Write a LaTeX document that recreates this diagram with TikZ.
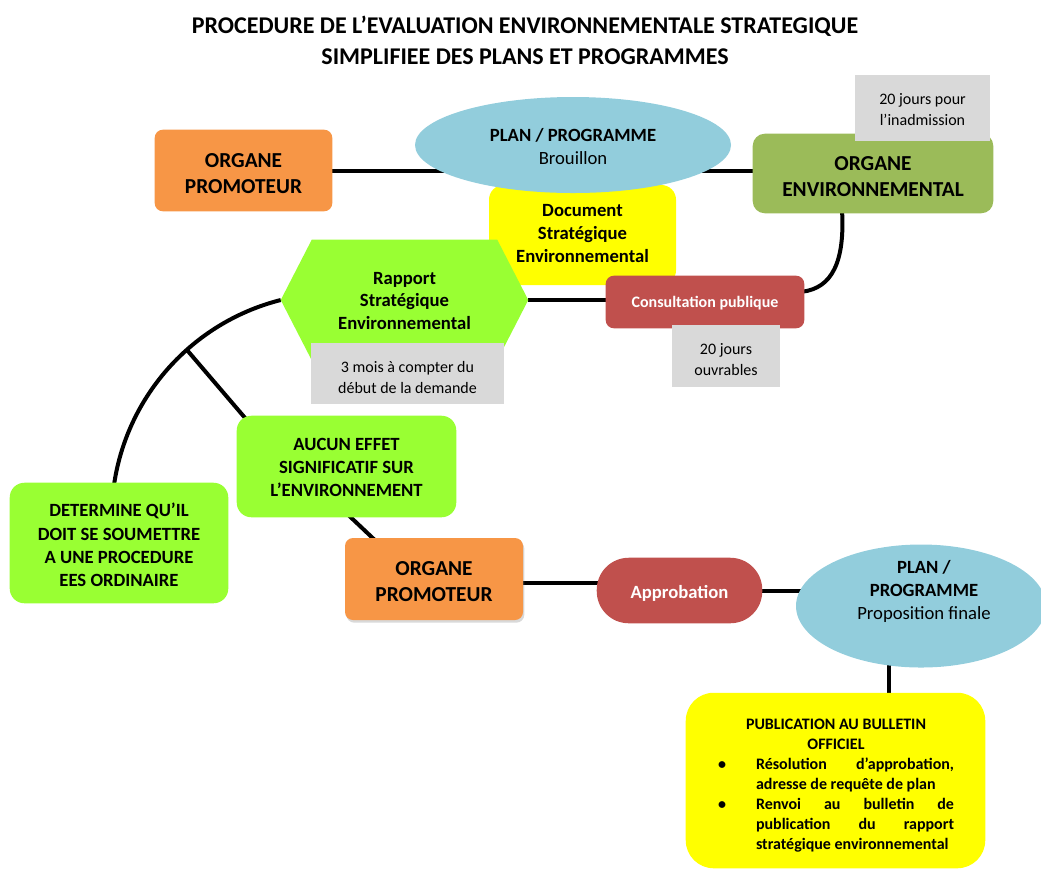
\documentclass[tikz,border=0pt]{standalone}
\usepackage{fontspec}
\setmainfont{Carlito}
\usetikzlibrary{calc,shadows,shapes.geometric}
\definecolor{orgorange}{HTML}{F79646}
\definecolor{planblue}{HTML}{92CDDC}
\definecolor{docyellow}{HTML}{FFFF00}
\definecolor{envgreen}{HTML}{9BBB59}
\definecolor{consred}{HTML}{C0504D}
\definecolor{limegreen}{HTML}{99FF33}
\definecolor{notegrey}{HTML}{D9D9D9}
\newcommand\pxu[1]{#1*0.75pt}
\begin{document}
\begin{tikzpicture}[x=0.75pt,y=-0.75pt,
  conn/.style={line width=3pt, black},
  frame/.style={rectangle, inner sep=0pt},
  label/.style={inner sep=0pt, align=center, text=black},
  organetext/.style={label, font=\bfseries\fontsize{16}{19.5}\selectfont},
  bluetext/.style={label, font=\fontsize{14}{17.25}\selectfont},
  greentext/.style={label, font=\bfseries\fontsize{14}{17.4}\selectfont},
  notetext/.style={label, font=\fontsize{12}{15.75}\selectfont},
  redtext/.style={label, text=white, font=\bfseries\fontsize{12}{15}\selectfont},
]
\useasboundingbox (0,0) rectangle (1041,869);

% title
\node[label, font=\bfseries\fontsize{18}{23.25}\selectfont] (title) at (525,40.5)
  {PROCEDURE DE L’EVALUATION ENVIRONNEMENTALE STRATEGIQUE\\SIMPLIFIEE DES PLANS ET PROGRAMMES};

% node frames used for the connectors
\path node[frame, minimum width=\pxu{177}, minimum height=\pxu{81}] (promA) at (243.5,170.5) {};
\path node[frame, minimum width=\pxu{240}, minimum height=\pxu{79}] (envA) at (873,173.5) {};
\path node[frame, minimum width=\pxu{198}, minimum height=\pxu{52}] (consult) at (705,302) {};
\path node[frame, minimum width=\pxu{247}, minimum height=\pxu{120}] (hex) at (404.5,300) {};
\path node[frame, minimum width=\pxu{219}, minimum height=\pxu{101}] (aucun) at (346.5,466.5) {};
\path node[frame, minimum width=\pxu{218}, minimum height=\pxu{120}] (determine) at (119,543) {};
\path node[frame, minimum width=\pxu{178}, minimum height=\pxu{82}] (promB) at (434,579) {};
\path node[frame, minimum width=\pxu{165}, minimum height=\pxu{65}] (approb) at (679.5,590.5) {};
\path node[ellipse, inner sep=0pt, minimum width=\pxu{250}, minimum height=\pxu{123}] (ellB) at (921,606) {};
\path node[frame, minimum width=\pxu{299}, minimum height=\pxu{175}] (pub) at (835.5,780.5) {};
\coordinate (branch) at (187,350);
\coordinate (envtap) at (842,210);

% connectors
\draw[conn] (promA.east) -- (promA.east -| envA.west);
\draw[conn] (envtap) .. controls (845,262) and (832,288) .. ($(consult.north east)+(-2,16)$);
\draw[conn] (hex.east) -- (hex.east -| consult.west);
\draw[conn] (hex.west) arc[start angle=255.8, end angle=185, radius=224];
\draw[conn] (branch) -- ($(aucun.north west)+(15,10)$);
\draw[conn] ($(aucun.south)+(0,-4)$) -- ($(promB.north west)+(34,6)$);
\draw[conn] ($(promB.east)+(-4,4)$) -- ($(approb.west)+(4,-7.5)$);
\draw[conn] (approb.east) -- (approb.east -| ellB.center);
\draw[conn] ($(pub.north)+(53.5,5)$) -- ($(pub.north)+(53.5,-60)$);

% top promoter
\fill[orgorange, rounded corners=6pt] (promA.north west) rectangle (promA.south east);
\node[organetext] (promAt) at ($(promA.center)+(0,3)$) {ORGANE\\PROMOTEUR};

% strategic document
\node[frame, fill=docyellow, rounded corners=11pt, minimum width=\pxu{187}, minimum height=\pxu{100}] (docbox) at (582.5,235) {};
\node[label, font=\bfseries\fontsize{14}{17.25}\selectfont] (doct) at (582.5,233.5)
  {Document\\Stratégique\\Environnemental};

% draft plan
\node[ellipse, inner sep=0pt, fill=planblue, minimum width=\pxu{316}, minimum height=\pxu{96}] (ellA) at (573,145) {};
\node[bluetext] (ellAt) at (573,147) {\textbf{PLAN / PROGRAMME}\\Brouillon};

% strategic report (hexagon)
\fill[limegreen] (hex.west) -- ($(hex.north west)+(31,0)$) -- ($(hex.north east)+(-31,0)$)
  -- (hex.east) -- ($(hex.south east)+(-31,0)$) -- ($(hex.south west)+(31,0)$) -- cycle;
\node[label, font=\bfseries\fontsize{14}{17}\selectfont] (hext) at (404.5,301)
  {Rapport\\Stratégique\\Environnemental};

% public consultation
\fill[consred, rounded corners=6pt] (consult.north west) rectangle (consult.south east);
\node[redtext] (consultt) at ($(consult.center)+(0,1.5)$) {Consultation publique};

% environmental body
\fill[envgreen, rounded corners=9pt] (envA.north west) rectangle (envA.south east);
\node[organetext] (envAt) at ($(envA.center)+(0,3)$) {ORGANE\\ENVIRONNEMENTAL};

% grey notes
\node[frame, fill=notegrey, minimum width=\pxu{135}, minimum height=\pxu{66}] (note1) at (922.5,108) {};
\node[notetext] (note1t) at (922.5,109.5) {20 jours pour\\l’inadmission};
\node[frame, fill=notegrey, minimum width=\pxu{193}, minimum height=\pxu{61}] (note2) at (407.5,373.5) {};
\node[notetext] (note2t) at (407.5,377.5) {3 mois à compter du\\début de la demande};
\node[frame, fill=notegrey, minimum width=\pxu{108}, minimum height=\pxu{62}] (note3) at (726,356) {};
\node[notetext] (note3t) at (726,360) {20 jours\\ouvrables};

% decisions
\fill[limegreen, rounded corners=11pt] (aucun.north west) rectangle (aucun.south east);
\node[greentext] (aucunt) at ($(aucun.center)+(0,1)$) {AUCUN EFFET\\SIGNIFICATIF SUR\\L’ENVIRONNEMENT};
\fill[limegreen, rounded corners=11pt] (determine.north west) rectangle (determine.south east);
\node[greentext] (determinet) at ($(determine.center)+(0,2)$) {DETERMINE QU’IL\\DOIT SE SOUMETTRE\\A UNE PROCEDURE\\EES ORDINAIRE};

% bottom promoter
\node[frame, fill=orgorange, rounded corners=6pt, minimum width=\pxu{178}, minimum height=\pxu{82},
  drop shadow={opacity=0.3, shadow xshift=1pt, shadow yshift=-2pt}] (promBbox) at (promB.center) {};
\node[organetext] (promBt) at ($(promB.center)+(0,3)$) {ORGANE\\PROMOTEUR};

% approval
\fill[consred, rounded corners=24pt] (approb.north west) rectangle (approb.south east);
\node[redtext, font=\bfseries\fontsize{14}{17}\selectfont] (approbt) at ($(approb.center)+(0,2.5)$) {Approbation};

% final plan
\fill[planblue] (ellB.center) ellipse[x radius=125, y radius=61.5];
\node[bluetext] (ellBt) at (924,591) {\textbf{PLAN /}\\\textbf{PROGRAMME}\\Proposition finale};

% publication
\fill[docyellow, rounded corners=21pt] (pub.north west) rectangle (pub.south east);
\node[label, font=\bfseries\fontsize{12}{15}\selectfont] (pubt) at (836,786)
  {\parbox{177pt}{\hyphenpenalty=10000
   {\centering PUBLICATION AU BULLETIN\\OFFICIEL\par}
   \leftskip=28.5pt \rightskip=0pt \parfillskip=0pt plus 1fil \parindent=0pt
   \leavevmode\llap{\textbullet\hspace{22.5pt}}Résolution d’approbation,\linebreak adresse de requête de plan\par
   \leavevmode\llap{\textbullet\hspace{22.5pt}}Renvoi au bulletin de\linebreak publication du rapport\linebreak stratégique environnemental\par}};
\end{tikzpicture}
\end{document}
